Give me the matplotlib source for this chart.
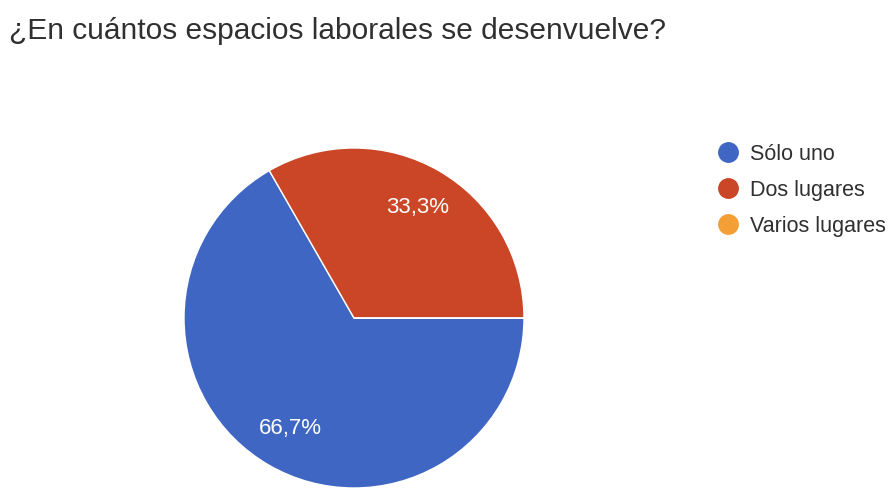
import matplotlib.pyplot as plt
from matplotlib.lines import Line2D

plt.rcParams['font.family'] = ['Liberation Sans', 'DejaVu Sans']

# respuestas de la encuesta
opciones = ['Sólo uno', 'Dos lugares', 'Varios lugares']
porcentajes = [66.7, 33.3, 0.0]
colores = ['#4066c4', '#cb4527', '#f49f36']
titulo = '¿En cuántos espacios laborales se desenvuelve?'


def etiqueta(p):
    # sin texto para las porciones vacías, coma decimal
    if p < 0.05:
        return ''
    return f'{p:.1f}%'.replace('.', ',')


fig = plt.figure(figsize=(8.96, 4.91), dpi=100)
fig.text(9 / 896, 1 - 31 / 491, titulo, fontsize=21.5, color='#303030',
         ha='left', va='center')

ax = fig.add_axes([184 / 896, 3 / 491, 340 / 896, 340 / 491])
ax.pie(porcentajes, colors=colores, startangle=0, counterclock=False,
       autopct=etiqueta, pctdistance=0.75, radius=1,
       wedgeprops=dict(edgecolor='white', linewidth=1),
       textprops=dict(color='white', fontsize=16))
ax.set_xlim(-1, 1)
ax.set_ylim(-1, 1)
ax.set_aspect('equal')
ax.axis('off')

handles = [Line2D([], [], marker='o', linestyle='', markersize=14,
                  markerfacecolor=c, markeredgecolor=c) for c in colores]
fig.legend(handles, opciones, loc='upper left',
           bbox_to_anchor=(704 / 896, 1 - 133 / 491), frameon=False,
           fontsize=15.5, labelcolor='#303030', handletextpad=0.45,
           labelspacing=0.7, borderpad=0, handlelength=1.2)

fig.savefig('out.png', dpi=100)
